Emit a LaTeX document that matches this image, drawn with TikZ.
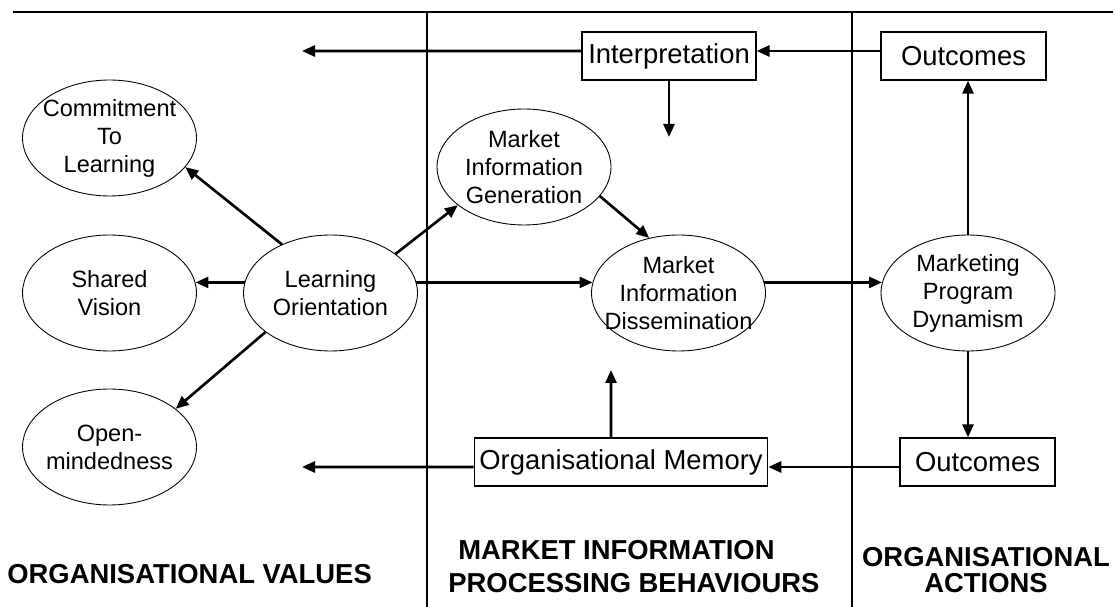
\documentclass[tikz,border=0pt]{standalone}
\usepackage{fontspec}
\setmainfont{Liberation Sans}
\usetikzlibrary{shapes,arrows.meta,positioning}

\begin{document}
\begin{tikzpicture}[x=0.02cm, y=-0.02cm]
    % Define styles
    \tikzstyle{concept} = [ellipse, draw, line width=0.5pt, minimum width=3.48cm, minimum height=2.32cm, inner xsep=-0.5cm, inner ysep=0pt, align=center, font=\fontsize{13.4}{15.9}\selectfont]
    \tikzstyle{outcome} = [rectangle, draw, line width=0.7pt, minimum height=0.96cm, inner xsep=0.1cm, font=\fontsize{15.6}{18}\selectfont]
    \tikzstyle{heading} = [inner sep=0pt, font=\bfseries\fontsize{15.6}{18}\selectfont]
    \tikzstyle{divider} = [line width=0.75pt]
    \tikzstyle{arrow} = [line width=1.5pt,->,>={Triangle[length=0.26cm,width=0.22cm]}]

    \useasboundingbox (0,0) rectangle (1115,607);

    % Dividers
    \draw [divider] (13,12) -- (1113,12);
    \draw [divider] (427,12) -- (427,607);
    \draw [divider] (852,12) -- (852,607);

    % Nodes
    \node [concept] (commit) at (109.5,138) {Commitment\\To\\Learning};
    \node [concept] (shared) at (109.5,293) {Shared\\Vision};
    \node [concept] (open) at (109.5,447) {Open-\\mindedness};
    \node [concept] (learn) at (330.5,293) {Learning\\Orientation};
    \node [concept] (generation) at (524,167) {Market\\Information\\Generation};
    \node [concept] (dissem) at (678.5,293) {Market\\Information\\Dissemination};
    \node [concept] (dynamism) at (968,293) {Marketing\\Program\\Dynamism};

    \node [outcome, minimum width=3.48cm] (interp) at (669,56) {Interpretation};
    \node [outcome, minimum width=3.3cm] (outtop) at (963.5,56) {Outcomes};
    \node [outcome, minimum width=5.8cm] (memory) at (621,462) {Organisational Memory};
    \node [outcome, minimum width=3.1cm] (outbottom) at (977.5,462) {Outcomes};

    \node [heading, anchor=base west] (values) at (7,583) {ORGANISATIONAL VALUES};
    \node [heading, anchor=base west, align=left, font=\bfseries\fontsize{15.6}{18.4}\selectfont] (processing) at (448,592) {\hspace*{0.2cm}MARKET INFORMATION\\PROCESSING BEHAVIOURS};
    \node [heading, anchor=base, align=center, font=\bfseries\fontsize{15.6}{14.6}\selectfont] (actions) at (986,592) {ORGANISATIONAL\\ACTIONS};

    % Free ends
    \coordinate (topend) at (302,51);
    \coordinate (bottomend) at (302,467);
    \coordinate (interpend) at (669,137);
    \coordinate (memend) at (611,370);

    % Arrows
    \draw [arrow] (learn.135) -- (commit.-21);
    \draw [arrow] (learn.173) -- (shared.7);
    \draw [arrow] (learn.211) -- (open.30);
    \draw [arrow] (learn.31) -- (generation.210);
    \draw [arrow] (learn.7) -- (dissem.173);
    \draw [arrow] (generation.-21) -- (dissem.118);
    \draw [arrow] (dissem.7) -- (dynamism.173);
    \draw [arrow] (dynamism.north) -- (dynamism.north |- outtop.south);
    \draw [arrow] (dynamism.south) -- (dynamism.south |- outbottom.north);
    \draw [arrow] ([yshift=0.1cm]outtop.west) -- ([yshift=0.1cm]interp.east);
    \draw [arrow] ([yshift=0.1cm]interp.west) -- (topend);
    \draw [arrow] (interp.south) -- (interpend);
    \draw [arrow] ([yshift=-0.1cm]outbottom.west) -- ([yshift=-0.1cm]memory.east);
    \draw [arrow] ([yshift=-0.1cm]memory.west) -- (bottomend);
    \draw [arrow] ([xshift=-0.2cm]memory.north) -- (memend);
\end{tikzpicture}
\end{document}
